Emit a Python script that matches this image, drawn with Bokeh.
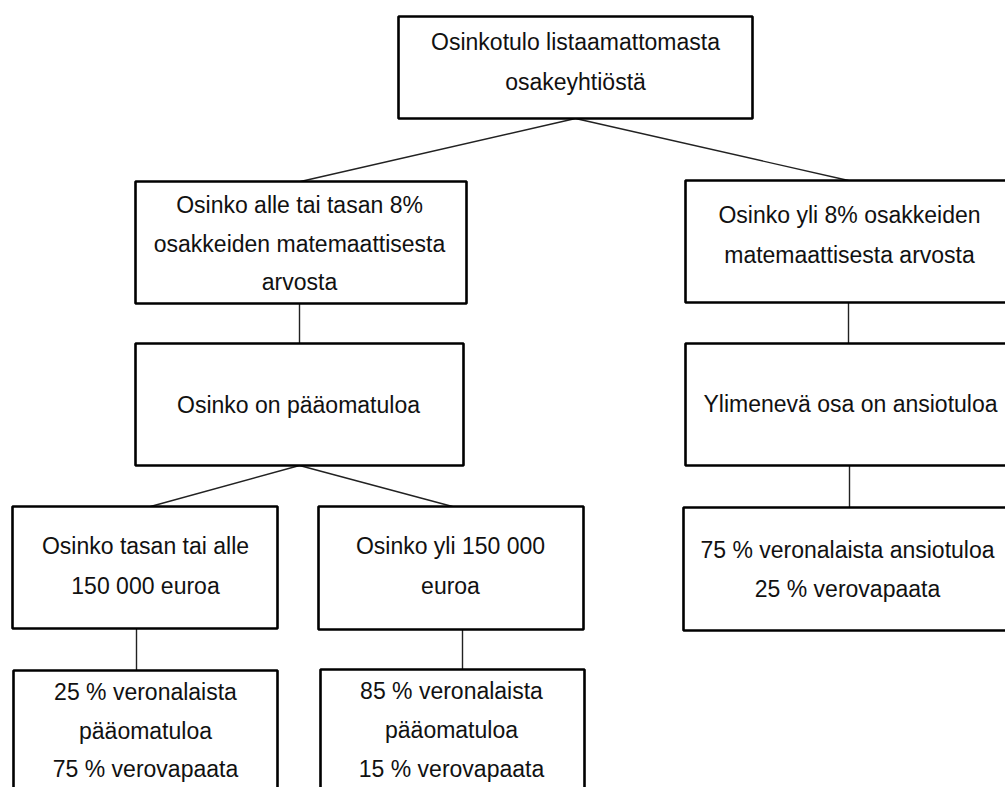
from bokeh.plotting import figure
from bokeh.models import Range1d, ColumnDataSource
from bokeh.core.properties import value
from bokeh.embed import file_html
from bokeh.resources import INLINE

# ---- diagram content ----
box_names = ["top", "l2_left", "l2_right", "paaoma", "ylimeneva",
             "l3_left", "l3_right", "l4_left", "l4_right", "l3_far_right"]
box_left = [398, 135, 685, 135, 685, 12, 318, 13, 320, 683]
box_right = [752, 466, 1015, 463, 1015, 277, 583, 277, 584, 1015]
box_top = [16, 181, 180, 343, 343, 506, 506, 670, 669, 507]
box_bottom = [118, 303, 302, 465, 465, 628, 629, 800, 800, 630]

# connectors: (x0, y0, x1, y1)
conn_x0 = [575, 575, 299, 848, 299, 299, 849, 136, 462]
conn_y0 = [118, 118, 303, 302, 465, 465, 465, 628, 629]
conn_x1 = [300, 848, 299, 848, 150, 452, 849, 136, 462]
conn_y1 = [181, 180, 343, 343, 506, 506, 507, 670, 669]

# text lines (positions are line centres)
text_lines = [
    "Osinkotulo listaamattomasta", "osakeyhtiöstä",
    "Osinko alle tai tasan 8%", "osakkeiden matemaattisesta", "arvosta",
    "Osinko yli 8% osakkeiden", "matemaattisesta arvosta",
    "Osinko on pääomatuloa",
    "Ylimenevä osa on ansiotuloa",
    "Osinko tasan tai alle", "150 000 euroa",
    "Osinko yli 150 000", "euroa",
    "75 % veronalaista ansiotuloa", "25 % verovapaata",
    "25 % veronalaista", "pääomatuloa", "75 % verovapaata",
    "85 % veronalaista", "pääomatuloa", "15 % verovapaata",
]
text_x = [575, 575,
          299, 299, 299,
          849, 849,
          298,
          850,
          145, 145,
          450, 450,
          847, 847,
          145, 145, 145,
          451, 451, 451]
text_y = [41, 81,
          204, 243, 281,
          214, 254,
          404,
          403,
          545, 585,
          545, 585,
          549, 588,
          691, 730, 768,
          690, 729, 768]

W, H = 1005, 787
p = figure(width=W, height=H, output_backend="svg", toolbar_location=None,
           x_range=Range1d(0, W), y_range=Range1d(H, 0),
           min_border=0, outline_line_color=None)
p.axis.visible = False
p.grid.visible = False
p.background_fill_color = "white"
p.border_fill_color = "white"

p.segment(x0=conn_x0, y0=conn_y0, x1=conn_x1, y1=conn_y1,
          line_color="#222222", line_width=1.4)

p.quad(left=box_left, right=box_right, top=box_top, bottom=box_bottom,
       fill_color="white", line_color="black", line_width=2.6)

src = ColumnDataSource(dict(x=text_x, y=text_y, t=text_lines))
p.text(x="x", y="y", text="t", source=src,
       text_font=value("Liberation Sans"), text_font_size="23px",
       text_align="center", text_baseline="middle", text_color="#111111")

open("out.html", "w").write(file_html(p, INLINE))
